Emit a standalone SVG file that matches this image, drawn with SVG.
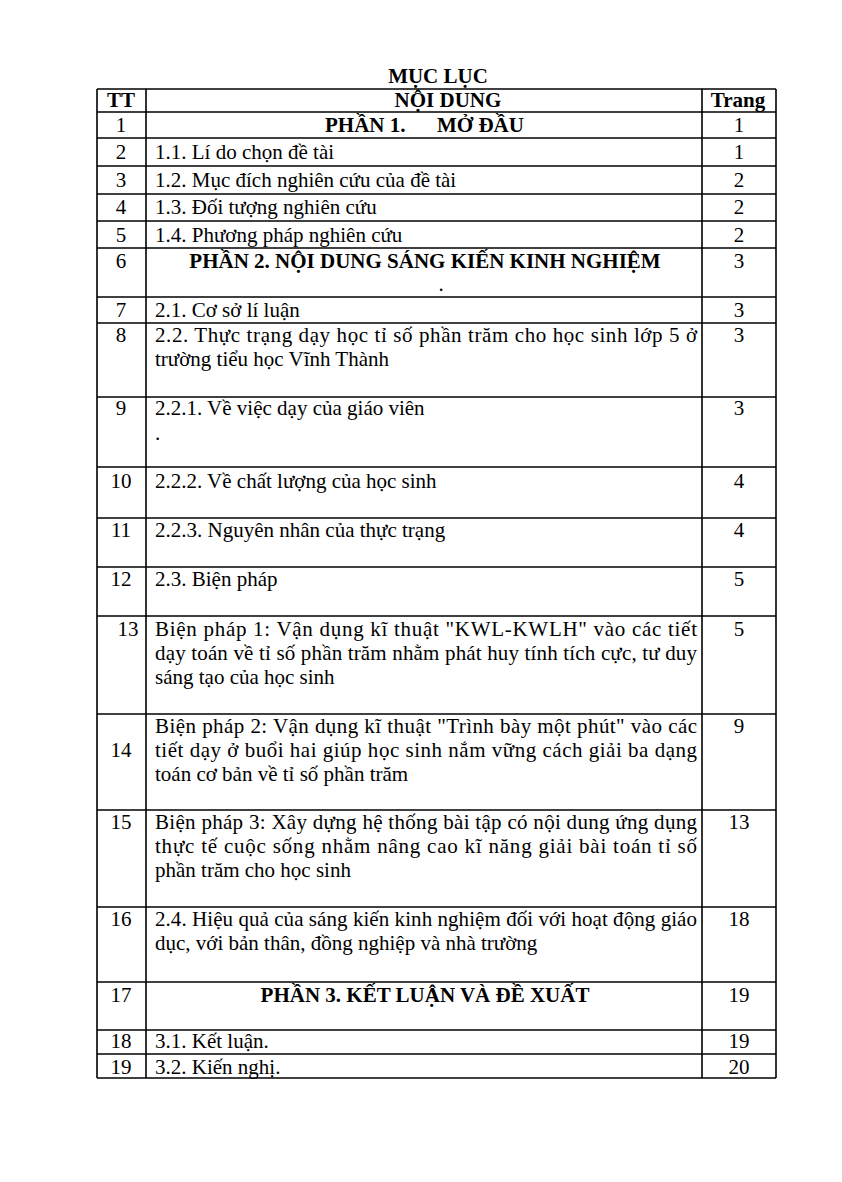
<svg xmlns="http://www.w3.org/2000/svg" width="842" height="1182" viewBox="0 0 842 1182">
<style>
text{font-family:"Liberation Serif","Times New Roman",serif;font-size:21px;fill:#000}
.b{font-weight:bold}
.c{text-anchor:middle}
.g line{stroke:#000;stroke-width:1.6}
</style>
<rect x="0" y="0" width="842" height="1182" fill="#fff"/>
<text class="b c" x="438" y="83">MỤC LỤC</text>
<g class="g" id="grid">
<line x1="97" y1="89" x2="776" y2="89"/>
<line x1="97" y1="112" x2="776" y2="112"/>
<line x1="97" y1="138" x2="776" y2="138"/>
<line x1="97" y1="166" x2="776" y2="166"/>
<line x1="97" y1="194" x2="776" y2="194"/>
<line x1="97" y1="221" x2="776" y2="221"/>
<line x1="97" y1="248" x2="776" y2="248"/>
<line x1="97" y1="297" x2="776" y2="297"/>
<line x1="97" y1="323" x2="776" y2="323"/>
<line x1="97" y1="397" x2="776" y2="397"/>
<line x1="97" y1="467" x2="776" y2="467"/>
<line x1="97" y1="518" x2="776" y2="518"/>
<line x1="97" y1="567" x2="776" y2="567"/>
<line x1="97" y1="616" x2="776" y2="616"/>
<line x1="97" y1="714" x2="776" y2="714"/>
<line x1="97" y1="810" x2="776" y2="810"/>
<line x1="97" y1="907" x2="776" y2="907"/>
<line x1="97" y1="982" x2="776" y2="982"/>
<line x1="97" y1="1030" x2="776" y2="1030"/>
<line x1="97" y1="1054" x2="776" y2="1054"/>
<line x1="97" y1="1078" x2="776" y2="1078"/>
<line x1="97" y1="89" x2="97" y2="1078"/>
<line x1="146" y1="89" x2="146" y2="1078"/>
<line x1="702" y1="89" x2="702" y2="1078"/>
<line x1="776" y1="89" x2="776" y2="1078"/>
</g>
<g id="header">
<text class="b c" x="121" y="107">TT</text>
<text class="b c" x="448" y="107">NỘI DUNG</text>
<text class="b c" x="738" y="107">Trang</text>
</g>
<g id="row1">
<text class="c" x="121" y="132">1</text>
<text class="b" x="325" y="132">PHẦN 1.</text>
<text class="b" x="437" y="132">MỞ ĐẦU</text>
<text class="c" x="739" y="132">1</text>
</g>
<g id="row2">
<text class="c" x="121" y="159">2</text>
<text x="155" y="159">1.1. Lí do chọn đề tài</text>
<text class="c" x="739" y="159">1</text>
</g>
<g id="row3">
<text class="c" x="121" y="187">3</text>
<text x="155" y="187">1.2. Mục đích nghiên cứu của đề tài</text>
<text class="c" x="739" y="187">2</text>
</g>
<g id="row4">
<text class="c" x="121" y="214">4</text>
<text x="155" y="214">1.3. Đối tượng nghiên cứu</text>
<text class="c" x="739" y="214">2</text>
</g>
<g id="row5">
<text class="c" x="121" y="242">5</text>
<text x="155" y="242">1.4. Phương pháp nghiên cứu</text>
<text class="c" x="739" y="242">2</text>
</g>
<g id="row6">
<text class="c" x="121" y="268">6</text>
<text class="b c" x="425" y="268">PHẦN 2. NỘI DUNG SÁNG KIẾN KINH NGHIỆM</text>
<text class="c" x="441" y="291">.</text>
<text class="c" x="739" y="268">3</text>
</g>
<g id="row7">
<text class="c" x="121" y="317">7</text>
<text x="155" y="317">2.1. Cơ sở lí luận</text>
<text class="c" x="739" y="317">3</text>
</g>
<g id="row8">
<text class="c" x="121" y="342">8</text>
<text x="155" y="342" textLength="542" lengthAdjust="spacing">2.2. Thực trạng dạy học tỉ số phần trăm cho học sinh lớp 5 ở</text>
<text x="155" y="366">trường tiểu học Vĩnh Thành</text>
<text class="c" x="739" y="342">3</text>
</g>
<g id="row9">
<text class="c" x="121" y="415">9</text>
<text x="155" y="415">2.2.1. Về việc dạy của giáo viên</text>
<text x="155" y="440">.</text>
<text class="c" x="739" y="415">3</text>
</g>
<g id="row10">
<text class="c" x="121" y="488">10</text>
<text x="155" y="488">2.2.2. Về chất lượng của học sinh</text>
<text class="c" x="739" y="488">4</text>
</g>
<g id="row11">
<text class="c" x="121" y="537">11</text>
<text x="155" y="537">2.2.3. Nguyên nhân của thực trạng</text>
<text class="c" x="739" y="537">4</text>
</g>
<g id="row12">
<text class="c" x="121" y="586">12</text>
<text x="155" y="586">2.3. Biện pháp</text>
<text class="c" x="739" y="586">5</text>
</g>
<g id="row13">
<text class="c" x="128" y="636">13</text>
<text x="155" y="636" textLength="542" lengthAdjust="spacing">Biện pháp 1: Vận dụng kĩ thuật "KWL-KWLH" vào các tiết</text>
<text x="155" y="660" textLength="542" lengthAdjust="spacing">dạy toán về tỉ số phần trăm nhằm phát huy tính tích cực, tư duy</text>
<text x="155" y="684">sáng tạo của học sinh</text>
<text class="c" x="739" y="636">5</text>
</g>
<g id="row14">
<text class="c" x="121" y="757">14</text>
<text x="155" y="733" textLength="542" lengthAdjust="spacing">Biện pháp 2: Vận dụng kĩ thuật "Trình bày một phút" vào các</text>
<text x="155" y="757" textLength="542" lengthAdjust="spacing">tiết dạy ở buổi hai giúp học sinh nắm vững cách giải ba dạng</text>
<text x="155" y="781">toán cơ bản về tỉ số phần trăm</text>
<text class="c" x="739" y="733">9</text>
</g>
<g id="row15">
<text class="c" x="121" y="829">15</text>
<text x="155" y="829" textLength="542" lengthAdjust="spacing">Biện pháp 3: Xây dựng hệ thống bài tập có nội dung ứng dụng</text>
<text x="155" y="853" textLength="542" lengthAdjust="spacing">thực tế cuộc sống nhằm nâng cao kĩ năng giải bài toán tỉ số</text>
<text x="155" y="877">phần trăm cho học sinh</text>
<text class="c" x="739" y="829">13</text>
</g>
<g id="row16">
<text class="c" x="121" y="926">16</text>
<text x="155" y="926" textLength="542" lengthAdjust="spacing">2.4. Hiệu quả của sáng kiến kinh nghiệm đối với hoạt động giáo</text>
<text x="155" y="950">dục, với bản thân, đồng nghiệp và nhà trường</text>
<text class="c" x="739" y="926">18</text>
</g>
<g id="row17">
<text class="c" x="121" y="1002">17</text>
<text class="b c" x="425" y="1002">PHẦN 3. KẾT LUẬN VÀ ĐỀ XUẤT</text>
<text class="c" x="739" y="1002">19</text>
</g>
<g id="row18">
<text class="c" x="121" y="1048">18</text>
<text x="155" y="1048">3.1. Kết luận.</text>
<text class="c" x="739" y="1048">19</text>
</g>
<g id="row19">
<text class="c" x="121" y="1074">19</text>
<text x="155" y="1074">3.2. Kiến nghị.</text>
<text class="c" x="739" y="1074">20</text>
</g>
</svg>
